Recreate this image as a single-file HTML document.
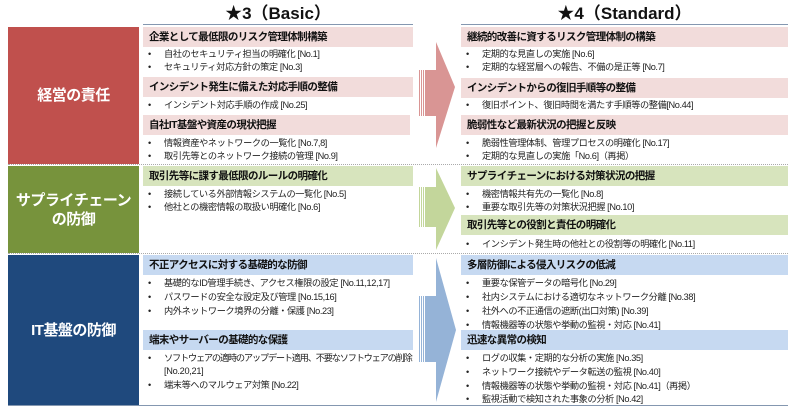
<!DOCTYPE html>
<html><head><meta charset="utf-8"><style>
*{margin:0;padding:0;box-sizing:border-box}
body{width:800px;height:408px;background:#fff;position:relative;overflow:hidden;font-family:"Liberation Sans","Noto Sans CJK JP",sans-serif;color:#222}
.a{position:absolute}
.t{font-weight:bold;font-size:17px;text-align:center;color:#111}
.cat{position:absolute;left:8px;width:131px;color:#fff;font-weight:bold;font-size:15px;display:flex;align-items:center;justify-content:center;text-align:center;line-height:19px;letter-spacing:-0.5px}
.h{position:absolute;height:20px;font-weight:bold;font-size:10.5px;line-height:20px;padding-left:6px;color:#111;letter-spacing:-0.6px}
.r{background:#f2dcdb}.g{background:#d7e4bd}.b{background:#c6d9f1}
.l{position:absolute;font-size:9.2px;line-height:13px;padding-left:21px;color:#222;white-space:nowrap;letter-spacing:-0.4px}
.l:before{content:"•";position:absolute;left:5px}
.sep{position:absolute;left:8px;width:780px;border-top:1px dotted #aaa}
</style></head><body>
<div class="a t" style="left:143px;width:270px;top:-1px">★3（Basic）</div>
<div class="a t" style="left:461px;width:327px;top:-1px">★4（Standard）</div>
<div class="a" style="left:143px;top:24px;width:270px;border-top:1px solid #8497b0"></div>
<div class="a" style="left:461px;top:24px;width:327px;border-top:1px solid #8497b0"></div>

<div class="cat" style="top:27px;height:137px;background:#c0504d">経営の責任</div>
<div class="cat" style="top:166px;height:87px;background:#77933c">サプライチェーン<br>の防御</div>
<div class="cat" style="top:255px;height:150px;background:#1f497d">IT基盤の防御</div>
<div class="sep" style="top:164px"></div>
<div class="sep" style="top:253px"></div>
<div class="a" style="left:8px;top:405px;width:780px;border-top:1px solid #8497b0"></div>

<svg class="a" style="left:415px;top:0" width="46" height="408">
<g fill="#d99594"><rect x="4" y="70" width="1" height="46"/><rect x="6" y="70" width="1" height="46"/><rect x="8" y="70" width="1" height="46"/><polygon points="10,70 21,70 21,42 40,87 21,148 21,116 10,116"/></g>
<g fill="#c3d69b"><rect x="4" y="187" width="1" height="40"/><rect x="6" y="187" width="1" height="40"/><rect x="8" y="187" width="1" height="40"/><polygon points="10,187 21,187 21,168 40,208 21,250 21,227 10,227"/></g>
<g fill="#95b3d7"><rect x="4" y="296" width="1" height="66"/><rect x="6" y="296" width="1" height="66"/><rect x="8" y="296" width="1" height="66"/><polygon points="10,296 21,296 21,258 41,330 21,402 21,362 10,362"/></g>
</svg>

<!-- Basic -->
<div class="h r" style="left:143px;top:27px;width:270px">企業として最低限のリスク管理体制構築</div>
<div class="l" style="left:143px;top:48px">自社のセキュリティ担当の明確化 [No.1]</div>
<div class="l" style="left:143px;top:61px">セキュリティ対応方針の策定 [No.3]</div>
<div class="h r" style="left:143px;top:77px;width:270px">インシデント発生に備えた対応手順の整備</div>
<div class="l" style="left:143px;top:99px">インシデント対応手順の作成 [No.25]</div>
<div class="h r" style="left:143px;top:115px;width:267px">自社IT基盤や資産の現状把握</div>
<div class="l" style="left:143px;top:137px">情報資産やネットワークの一覧化 [No.7,8]</div>
<div class="l" style="left:143px;top:150px">取引先等とのネットワーク接続の管理 [No.9]</div>

<div class="h g" style="left:143px;top:166px;width:270px">取引先等に課す最低限のルールの明確化</div>
<div class="l" style="left:143px;top:188px">接続している外部情報システムの一覧化 [No.5]</div>
<div class="l" style="left:143px;top:201px">他社との機密情報の取扱い明確化 [No.6]</div>

<div class="h b" style="left:143px;top:255px;width:270px">不正アクセスに対する基礎的な防御</div>
<div class="l" style="left:143px;top:277px">基礎的なID管理手続き、アクセス権限の設定 [No.11,12,17]</div>
<div class="l" style="left:143px;top:291px">パスワードの安全な設定及び管理 [No.15,16]</div>
<div class="l" style="left:143px;top:305px">内外ネットワーク境界の分離・保護 [No.23]</div>
<div class="h b" style="left:143px;top:330px;width:270px">端末やサーバーの基礎的な保護</div>
<div class="l" style="left:143px;top:352px;letter-spacing:-1.2px">ソフトウェアの適時のアップデート適用、不要なソフトウェアの削除<br><span style="letter-spacing:-0.3px">[No.20,21]</span></div>
<div class="l" style="left:143px;top:379px">端末等へのマルウェア対策 [No.22]</div>

<!-- Standard -->
<div class="h r" style="left:461px;top:27px;width:327px">継続的改善に資するリスク管理体制の構築</div>
<div class="l" style="left:461px;top:48px">定期的な見直しの実施 [No.6]</div>
<div class="l" style="left:461px;top:61px">定期的な経営層への報告、不備の是正等 [No.7]</div>
<div class="h r" style="left:461px;top:78px;width:327px">インシデントからの復旧手順等の整備</div>
<div class="l" style="left:461px;top:99px">復旧ポイント、復旧時間を満たす手順等の整備[No.44]</div>
<div class="h r" style="left:461px;top:115px;width:327px">脆弱性など最新状況の把握と反映</div>
<div class="l" style="left:461px;top:137px">脆弱性管理体制、管理プロセスの明確化 [No.17]</div>
<div class="l" style="left:461px;top:150px">定期的な見直しの実施「No.6]（再掲）</div>

<div class="h g" style="left:461px;top:166px;width:327px">サプライチェーンにおける対策状況の把握</div>
<div class="l" style="left:461px;top:188px">機密情報共有先の一覧化 [No.8]</div>
<div class="l" style="left:461px;top:201px">重要な取引先等の対策状況把握 [No.10]</div>
<div class="h g" style="left:461px;top:215px;width:327px">取引先等との役割と責任の明確化</div>
<div class="l" style="left:461px;top:238px">インシデント発生時の他社との役割等の明確化 [No.11]</div>

<div class="h b" style="left:461px;top:255px;width:327px">多層防御による侵入リスクの低減</div>
<div class="l" style="left:461px;top:277px">重要な保管データの暗号化 [No.29]</div>
<div class="l" style="left:461px;top:291px">社内システムにおける適切なネットワーク分離 [No.38]</div>
<div class="l" style="left:461px;top:305px">社外への不正通信の遮断(出口対策) [No.39]</div>
<div class="l" style="left:461px;top:319px">情報機器等の状態や挙動の監視・対応 [No.41]</div>
<div class="h b" style="left:461px;top:330px;width:327px">迅速な異常の検知</div>
<div class="l" style="left:461px;top:352px">ログの収集・定期的な分析の実施 [No.35]</div>
<div class="l" style="left:461px;top:366px">ネットワーク接続やデータ転送の監視 [No.40]</div>
<div class="l" style="left:461px;top:380px">情報機器等の状態や挙動の監視・対応 [No.41]（再掲）</div>
<div class="l" style="left:461px;top:393px">監視活動で検知された事象の分析 [No.42]</div>
</body></html>
